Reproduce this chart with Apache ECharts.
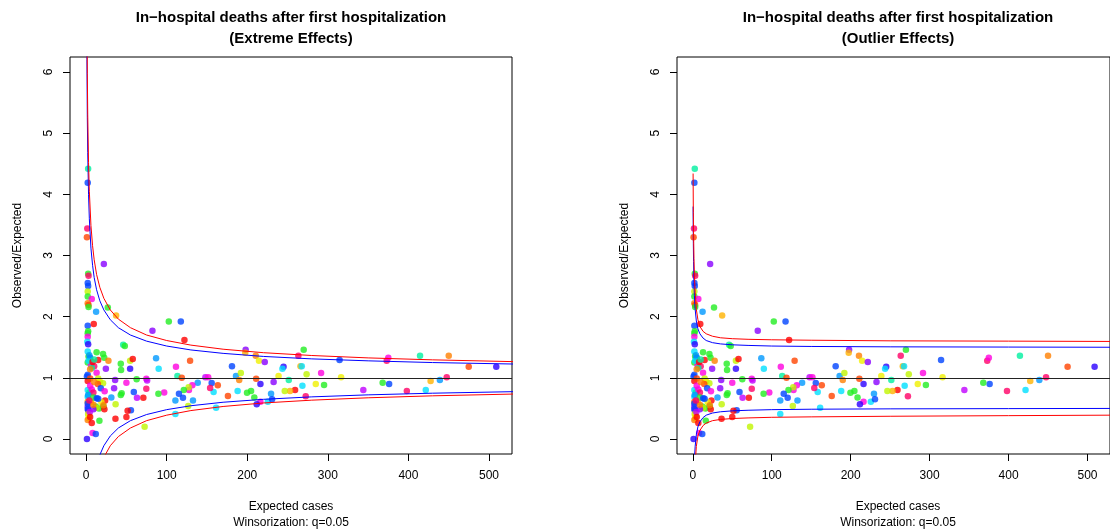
<!DOCTYPE html>
<html>
<head>
<meta charset="utf-8">
<script src="https://cdn.jsdelivr.net/npm/echarts@6.0.0/dist/echarts.min.js"></script>
<style>
html, body { margin: 0; padding: 0; background: #fff; }
#chart { width: 1110px; height: 531px; }
</style>
</head>
<body>
<div id="chart"></div>
<script>
// hospitals: expected cases, observed/expected ratio, colour key
var expected = [
    2.5, 2, 1.5, 1, 2.5, 3, 2, 2.5, 2, 2,
    7, 2, 3, 3, 2, 9.5, 2.5, 2, 2, 1.5,
    2.5, 2, 13, 3, 5, 15, 21, 22.5, 27.7, 24.5,
    2, 6, 10, 7, 13, 2, 1, 3, 4, 5,
    2, 15, 17, 21, 14.5, 36, 34.7, 18.2, 23, 2,
    4, 7, 9, 5, 2, 2.5, 2, 6, 9, 13.2,
    23.6, 19, 21.5, 16, 12, 13, 9, 2, 2.5, 2,
    2.5, 3.5, 3, 2, 7, 16.5, 8, 12, 1, 22.7,
    21.5, 2, 9, 15, 4.5, 5, 4, 5, 10, 8,
    10, 22, 12.4, 26.9, 37.2, 46, 48, 43, 43.4, 54.6,
    57.9, 54.6, 82.3, 102.6, 117.5, 122, 86.8, 90, 111.5, 129,
    113.3, 118.7, 148, 151.5, 181, 186, 192, 198, 197.5, 210.5,
    214.5, 221.7, 245, 243.6, 263.4, 270, 266, 267.6, 273.6, 291.6,
    314.5, 316.4, 373, 375, 414.4, 450, 474.8, 509, 447.5, 439,
    427.5, 421.5, 398, 376, 368, 344, 295.3, 285, 272.5, 268.4,
    259.3, 253, 246.5, 251.5, 238.8, 232.7, 229.5, 225.5, 216.3, 211,
    216.3, 211.7, 230.8, 208.7, 204.7, 199.7, 188, 190, 176, 161.3,
    163.4, 158.2, 155.8, 153.9, 138.5, 131.8, 127.6, 127.2, 121.2, 120.2,
    115.2, 110.8, 110.8, 132.6, 126.7, 96.9, 89.7, 74.7, 75.7, 74.7,
    71, 63.1, 62.7, 59.2, 50, 44.1, 43, 36.6, 31.3, 55.6,
    51.5, 50, 36.4, 72.6
]
var ratio = [
    4.42, 4.19, 3.44, 3.30, 2.70, 2.67, 2.55, 2.50, 2.41, 2.33,
    2.29, 2.22, 2.19, 2.16, 1.85, 1.88, 1.76, 1.73, 1.67, 1.59,
    1.55, 1.43, 1.42, 1.35, 1.33, 1.29, 1.39, 1.33, 1.28, 1.15,
    1.25, 1.21, 1.19, 1.16, 1.085, 1.05, 1.02, 1.28, 1.37, 1.14,
    0.95, 0.99, 0.94, 0.91, 0.90, 0.965, 0.83, 0.83, 0.78, 0.80,
    0.76, 0.81, 0.76, 0.87, 0.69, 0.72, 0.61, 0.60, 0.68, 0.665,
    0.63, 0.60, 0.53, 0.50, 0.53, 0.51, 0.485, 0.53, 0.47, 0.49,
    0.41, 0.39, 0.34, 0.31, 0.26, 0.30, 0.10, 0.08, 0.0, 0.485,
    0.55, 0.58, 0.56, 0.66, 0.44, 0.36, 0.63, 0.99, 0.93, 1.26,
    1.30, 2.86, 2.08, 2.15, 2.02, 1.54, 1.52, 1.23, 1.13, 1.28,
    1.31, 1.15, 1.77, 1.92, 1.92, 1.62, 1.32, 1.15, 1.18, 1.28,
    1.03, 1.0, 1.01, 1.01, 1.19, 1.03, 1.08, 1.46, 1.41, 1.36,
    1.28, 1.26, 1.18, 1.15, 1.36, 1.46, 1.19, 1.19, 1.06, 1.08,
    1.29, 1.01, 1.28, 1.33, 1.36, 1.36, 1.18, 1.18, 1.01, 0.965,
    0.95, 0.80, 0.785, 0.90, 0.92, 0.80, 0.885, 0.90, 0.70, 0.87,
    0.80, 0.785, 0.785, 0.965, 1.03, 0.93, 0.74, 0.61, 0.90, 0.985,
    0.61, 0.57, 0.65, 0.68, 0.785, 0.755, 0.785, 0.965, 0.705, 0.51,
    0.88, 0.77, 0.915, 0.835, 0.92, 0.88, 0.80, 0.845, 0.80, 0.675,
    0.74, 0.63, 0.41, 0.63, 0.54, 0.76, 0.74, 0.985, 0.955, 0.82,
    0.675, 0.675, 0.975, 0.77, 0.92, 0.75, 0.72, 0.57, 0.68, 0.47,
    0.46, 0.36, 0.33, 0.20
]
var colourKey = [
    'GC', 'B', 'MR', 'RO', 'G', 'MR', 'B', 'B', 'YG', 'G',
    'M', 'O', 'RO', 'G', 'B', 'R', 'G', 'G', 'M', 'C',
    'DB', 'C', 'G', 'G', 'B', 'R', 'G', 'G', 'O', 'P',
    'G', 'M', 'MR', 'GC', 'M', 'B', 'B', 'C', 'LB', 'O',
    'R', 'YG', 'Y', 'YG', 'RO', 'P', 'P', 'B', 'M', 'C',
    'GC', 'M', 'MR', 'M', 'C', 'LB', 'O', 'A', 'G', 'B',
    'R', 'Y', 'G', 'G', 'G', 'YG', 'P', 'P', 'P', 'B',
    'YG', 'Y', 'Y', 'O', 'R', 'G', 'M', 'B', 'DB', 'R',
    'O', 'B', 'O', 'B', 'V', 'R', 'MR', 'RO', 'O', 'R',
    'GC', 'P', 'LB', 'G', 'A', 'GC', 'G', 'G', 'G', 'YG',
    'R', 'DB', 'P', 'G', 'B', 'R', 'LB', 'C', 'M', 'RO',
    'GC', 'RO', 'V', 'M', 'B', 'LB', 'YG', 'P', 'A', 'O',
    'Y', 'P', 'DB', 'C', 'MR', 'G', 'A', 'C', 'YG', 'M',
    'B', 'Y', 'MR', 'M', 'GC', 'O', 'RO', 'DB', 'MR', 'LB',
    'A', 'C', 'MR', 'B', 'G', 'V', 'G', 'Y', 'MR', 'C',
    'R', 'A', 'YG', 'GC', 'Y', 'P', 'LB', 'C', 'DB', 'RO',
    'M', 'DB', 'B', 'G', 'G', 'G', 'C', 'O', 'RO', 'C',
    'RO', 'C', 'B', 'MR', 'LB', 'M', 'M', 'YG', 'G', 'B',
    'B', 'LB', 'C', 'LB', 'YG', 'M', 'G', 'M', 'V', 'MR',
    'R', 'V', 'G', 'B', 'M', 'G', 'G', 'YG', 'LB', 'B',
    'R', 'R', 'R', 'YG'
]

// funnel limits, extreme effects panel
var extX = [0.6, 1, 1.5, 2, 3, 4, 6, 8, 10, 13, 17, 22, 30, 40, 55, 75, 100, 130, 170, 220, 280, 350, 430, 530]
var extBlueUp = [7.71, 6.2, 5.25, 4.68, 4.0, 3.6, 3.12, 2.84, 2.64, 2.44, 2.26, 2.11, 1.95, 1.82, 1.70, 1.60, 1.52, 1.456, 1.40, 1.35, 1.31, 1.278, 1.25, 1.226]
var extBlueLo = [-5.71, -4.2, -3.25, -2.68, -2.0, -1.6, -1.12, -0.84, -0.64, -0.44, -0.26, -0.11, 0.05, 0.18, 0.30, 0.40, 0.48, 0.544, 0.601, 0.649, 0.689, 0.722, 0.749, 0.774]
var extRedUp = [8.87, 7.1, 5.98, 5.31, 4.52, 4.05, 3.49, 3.16, 2.93, 2.69, 2.48, 2.30, 2.11, 1.96, 1.82, 1.70, 1.61, 1.535, 1.468, 1.411, 1.365, 1.326, 1.294, 1.265]
var extRedLo = [-6.87, -5.1, -3.98, -3.31, -2.52, -2.05, -1.49, -1.16, -0.93, -0.69, -0.48, -0.30, -0.11, 0.04, 0.18, 0.30, 0.39, 0.465, 0.532, 0.589, 0.635, 0.674, 0.706, 0.735]

// funnel limits, outlier effects panel
var outX = [0.4, 0.7, 1, 1.5, 2, 3, 4.5, 6.5, 9, 13, 17, 25, 35, 50, 70, 100, 150, 250, 400, 530]
var outBlueUp = [3.8, 3.2, 2.9, 2.55, 2.35, 2.12, 1.93, 1.8, 1.72, 1.65, 1.61, 1.575, 1.555, 1.54, 1.53, 1.52, 1.513, 1.507, 1.503, 1.50]
var outBlueLo = [-1.8, -1.2, -0.9, -0.55, -0.35, -0.12, 0.07, 0.2, 0.28, 0.35, 0.39, 0.425, 0.445, 0.46, 0.47, 0.48, 0.487, 0.493, 0.497, 0.50]
var outRedUp = [4.34, 3.7, 3.35, 2.95, 2.7, 2.4, 2.12, 1.95, 1.84, 1.76, 1.72, 1.68, 1.655, 1.64, 1.63, 1.622, 1.615, 1.605, 1.60, 1.595]
var outRedLo = [-2.3, -1.7, -1.35, -0.95, -0.7, -0.4, -0.12, 0.05, 0.14, 0.22, 0.26, 0.30, 0.32, 0.335, 0.345, 0.355, 0.362, 0.372, 0.382, 0.39]

var xTicks = [0, 100, 200, 300, 400, 500]
var yTicks = [0, 1, 2, 3, 4, 5, 6]
var subTitles = ['(Extreme Effects)', '(Outlier Effects)']

var palette = {
    R: '#ff0000', RO: '#ff4400', O: '#ff8000', A: '#ffb300', Y: '#f0f000',
    YG: '#c0f500', G: '#22ee22', GC: '#00f0a0', C: '#00e0ff', LB: '#0099ff',
    B: '#0044ff', DB: '#2a00ff', P: '#8800ff', V: '#c000ff', M: '#ff00e0', MR: '#ff0066'
}
var font = '"Liberation Sans", Arial, sans-serif'

function pairs(xs, ys) {
    return xs.map(function (x, i) { return [x, ys[i]] })
}

var dots = expected.map(function (x, i) {
    return { value: [x, ratio[i]], itemStyle: { color: palette[colourKey[i]] } }
})

var curves = [
    [pairs(extX, extBlueUp), pairs(extX, extBlueLo), pairs(extX, extRedUp), pairs(extX, extRedLo)],
    [pairs(outX, outBlueUp), pairs(outX, outBlueLo), pairs(outX, outRedUp), pairs(outX, outRedLo)]
]

var panelLeft = [70, 677]
var grid = [], xAxis = [], yAxis = [], series = [], title = []

panelLeft.forEach(function (left, p) {
    grid.push({ left: left, top: 57, width: 442, height: 397, show: true, borderColor: '#000', borderWidth: 1 })
    xAxis.push({
        gridIndex: p, type: 'value', min: -20, max: 528.5,
        splitLine: { show: false },
        axisLine: { show: false, onZero: false },
        axisTick: { show: true, inside: false, length: 7, customValues: xTicks, lineStyle: { color: '#000' } },
        axisLabel: { customValues: xTicks, margin: 16, color: '#000', fontSize: 12, fontFamily: font }
    })
    yAxis.push({
        gridIndex: p, type: 'value', min: -0.245, max: 6.245,
        name: 'Observed/Expected', nameLocation: 'middle', nameGap: 46,
        nameTextStyle: { color: '#000', fontSize: 12, fontFamily: font },
        splitLine: { show: false },
        axisLine: { show: false, onZero: false },
        axisTick: { show: true, inside: false, length: 7, customValues: yTicks, lineStyle: { color: '#000' } },
        axisLabel: { customValues: yTicks, rotate: 90, margin: 15, color: '#000', fontSize: 12, fontFamily: font }
    })
    series.push({
        type: 'scatter', xAxisIndex: p, yAxisIndex: p, data: dots,
        symbolSize: 6.5, z: 2,
        markLine: {
            silent: true, symbol: 'none', label: { show: false },
            lineStyle: { color: '#222', type: 'solid', width: 1 },
            data: [{ yAxis: 1 }]
        }
    })
    var cols = ['#0000ff', '#0000ff', '#ff0000', '#ff0000']
    curves[p].forEach(function (d, k) {
        series.push({
            type: 'line', xAxisIndex: p, yAxisIndex: p, data: d,
            showSymbol: false, clip: true, z: 3,
            lineStyle: { color: cols[k], width: 1 }
        })
    })
    title.push({
        text: 'In\u2212hospital deaths after first hospitalization\n' + subTitles[p],
        left: left + 221, top: 7, textAlign: 'center', padding: 0,
        textStyle: { color: '#000', fontSize: 15, fontWeight: 'bold', lineHeight: 21, fontFamily: font }
    })
    title.push({
        text: 'Expected cases\nWinsorization: q=0.05',
        left: left + 221, top: 499, textAlign: 'center', padding: 0,
        textStyle: { color: '#000', fontSize: 12, fontWeight: 'normal', lineHeight: 16, fontFamily: font }
    })
})

var option = {
    animation: false,
    backgroundColor: '#fff',
    title: title,
    grid: grid,
    xAxis: xAxis,
    yAxis: yAxis,
    series: series
}
echarts.init(document.getElementById('chart')).setOption(option)
</script>
</body>
</html>
